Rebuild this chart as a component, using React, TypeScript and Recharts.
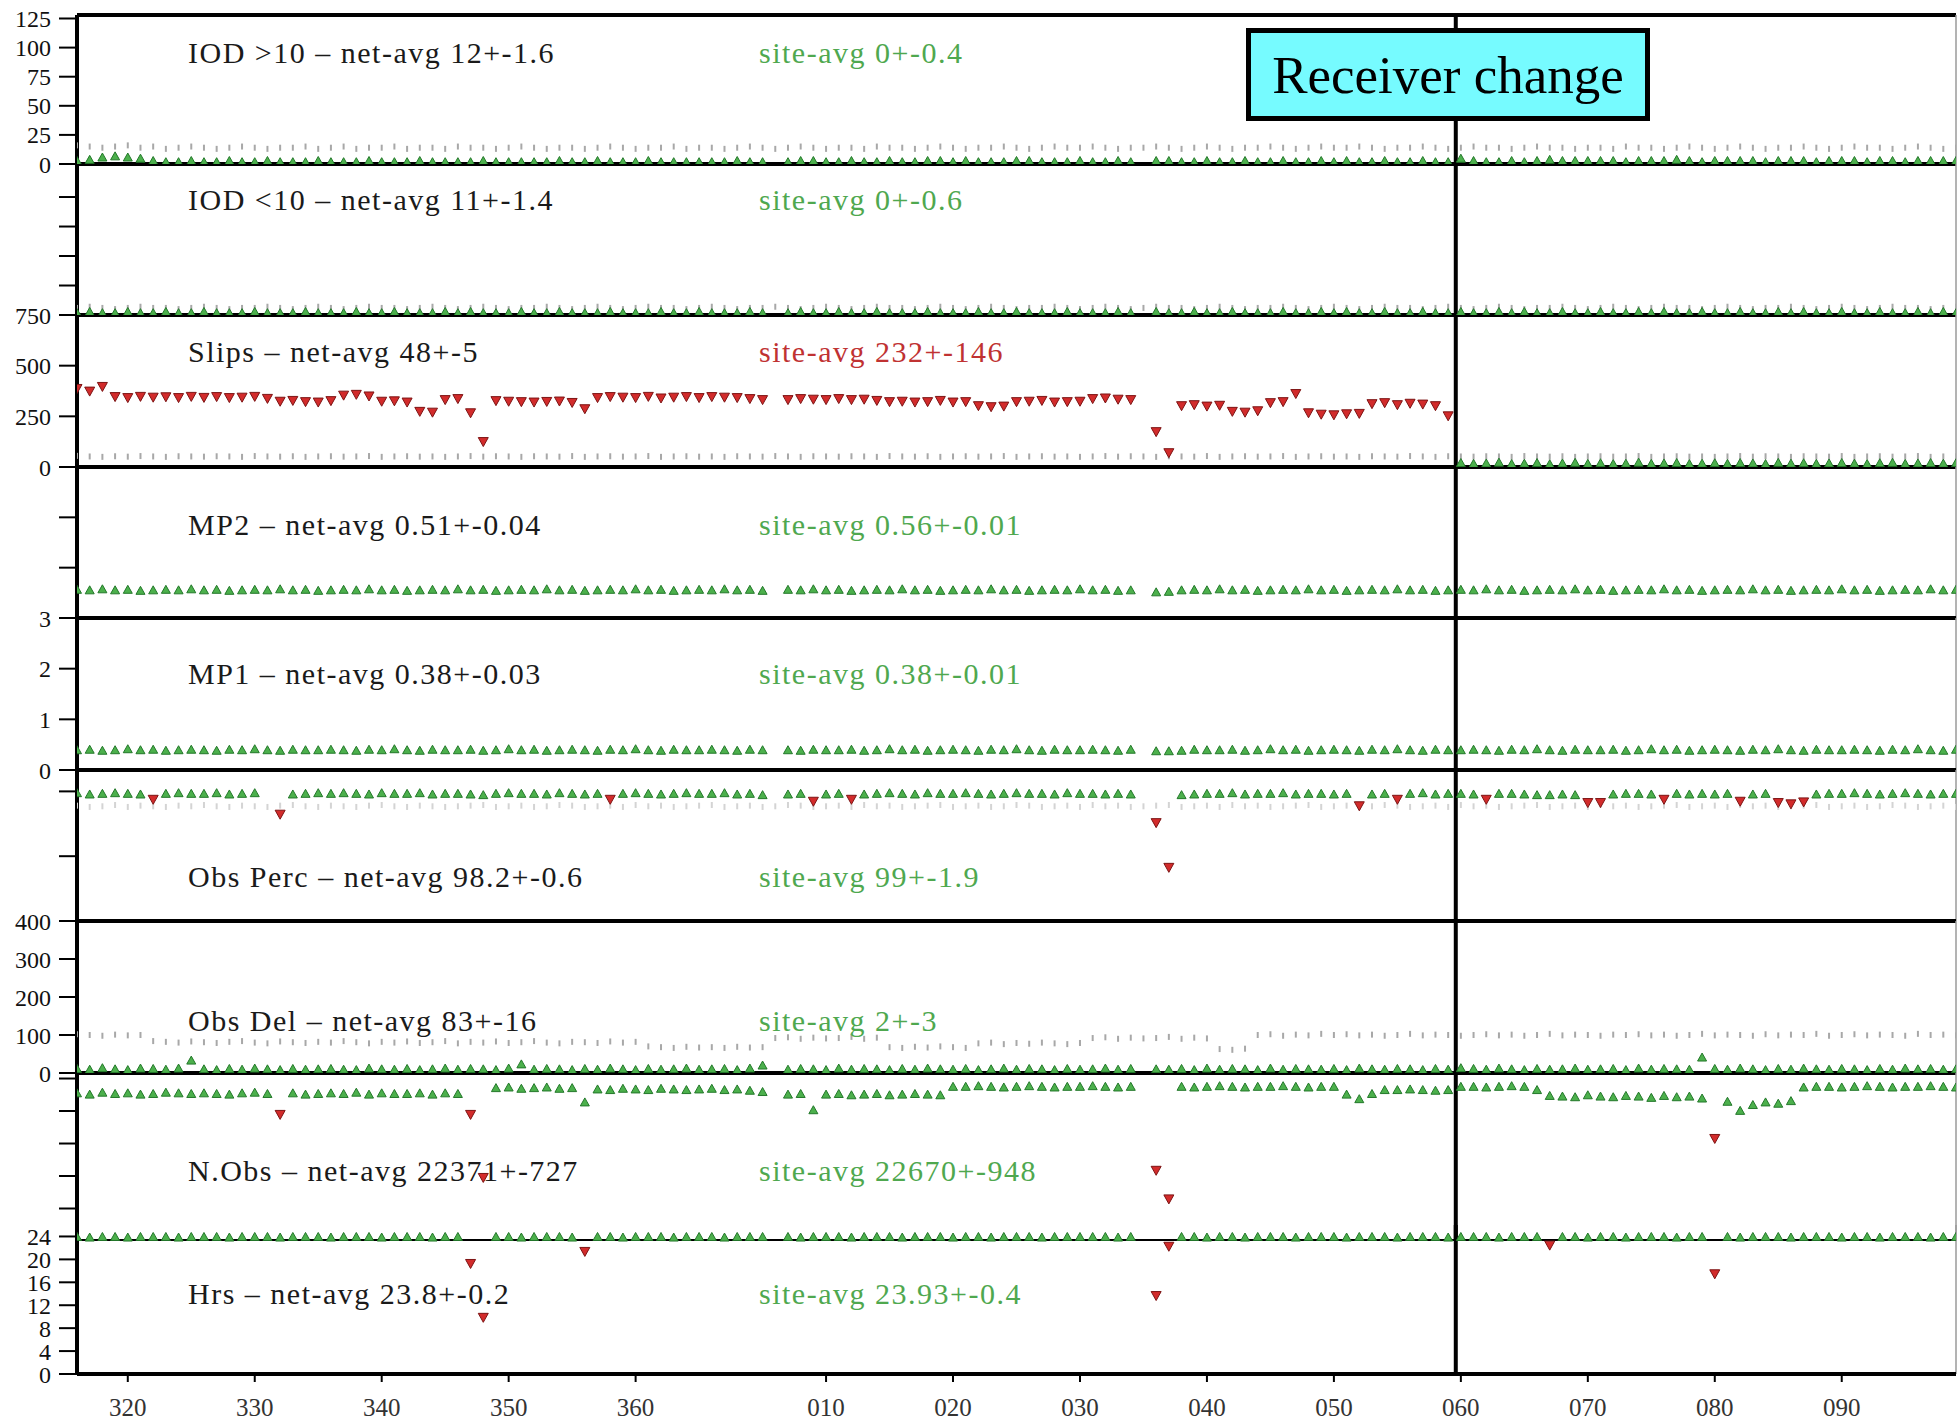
import React from 'react';
import { ScatterChart, Scatter, XAxis, YAxis, ReferenceLine } from 'recharts';

// day-of-year axis: index 0 of every series is day 316, days > 365 wrap into the next year
const START_DAY = 316;
const RECEIVER_CHANGE_DAY = 424.6;
const DAY_DOMAIN: [number, number] = [316, 464];
const X_TICKS = [320, 330, 340, 350, 360, 375, 385, 395, 405, 415, 425, 435, 445, 455];

const IOD_HI_TICKS = [0, 25, 50, 75, 100, 125];
const IOD_LO_TICKS = [25, 50, 75, 100];
const SLIPS_TICKS = [0, 250, 500, 750];
const MP2_TICKS = [1, 2];
const MP1_TICKS = [0, 1, 2, 3];
const OBS_PERC_TICKS = [90, 100];
const OBS_DEL_TICKS = [0, 100, 200, 300, 400];
const NOBS_TICKS = [5000, 10000, 15000, 20000, 25000];
const HRS_TICKS = [0, 4, 8, 12, 16, 20, 24];

const IOD_HI_SITE = [
  3, 4, 6, 7, 6, 5, 3, 2, 2, 3,
  2, 2, 3, 2, 2, 3, 2, 2, 2, 3,
  2, 2, 2, 3, 2, 2, 2, 3, 2, 2,
  2, 2, 3, 2, 2, 2, 2, 2, 3, 2,
  2, 3, 2, 2, 2, 3, 2, 2, 2, 2,
  2, 2, 3, 2, 2, null, 2, 3, 3, 2,
  2, 3, 2, 2, 3, 2, 2, 3, 3, 2,
  3, 2, 2, 2, 3, 3, 2, 2, 2, 3,
  2, 2, 3, 2, null, 3, 3, 2, 2, 3,
  2, 2, 3, 2, 2, 3, 2, 2, 3, 2,
  3, 2, 2, 3, 2, 2, 3, 2, 2, 5,
  3, 2, 2, 3, 2, 3, 4, 3, 3, 3,
  3, 3, 2, 3, 3, 3, 4, 3, 2, 3,
  3, 3, 3, 2, 3, 3, 3, 2, 3, 3,
  3, 2, 3, 3, 2, 3, 3, 3, 3,
];
const IOD_HI_NET = [
  16, 15, 14, 15, 16, 14, 15, 13, 14, 15,
  14, 13, 14, 15, 14, 13, 14, 14, 15, 13,
  14, 15, 13, 14, 14, 15, 13, 14, 14, 13,
  15, 14, 14, 13, 14, 15, 14, 13, 14, 14,
  13, 14, 15, 14, 13, 14, 14, 15, 13, 14,
  14, 13, 14, 15, 14, 13, 14, 15, 14, 13,
  14, 14, 13, 15, 14, 14, 13, 14, 15, 14,
  13, 14, 14, 15, 14, 13, 14, 15, 14, 14,
  15, 14, 13, 14, 14, 15, 14, 13, 14, 15,
  14, 13, 14, 14, 15, 14, 13, 14, 15, 14,
  14, 15, 14, 13, 14, 14, 15, 14, 13, 14,
  15, 14, 14, 13, 14, 15, 14, 14, 13, 14,
  14, 13, 15, 14, 14, 13, 14, 15, 14, 13,
  14, 15, 14, 13, 14, 14, 15, 14, 13, 14,
  15, 14, 14, 13, 14, 15, 14, 13, 14,
];

const IOD_LO_SITE = [
  2, 3, 2, 2, 3, 2, 2, 3, 2, 2,
  3, 2, 2, 2, 3, 2, 2, 2, 3, 2,
  2, 2, 3, 2, 2, 3, 2, 2, 2, 3,
  2, 3, 2, 2, 2, 3, 2, 2, 3, 2,
  2, 2, 3, 2, 2, 2, 3, 2, 2, 3,
  2, 2, 2, 3, 2, null, 2, 3, 2, 2,
  3, 2, 2, 3, 2, 2, 2, 3, 2, 2,
  2, 3, 2, 2, 3, 2, 2, 2, 3, 2,
  2, 2, 3, 2, null, 3, 2, 2, 3, 2,
  2, 3, 2, 2, 2, 3, 2, 2, 3, 2,
  3, 2, 2, 3, 2, 2, 3, 2, 2, 3,
  2, 2, 3, 2, 3, 2, 2, 3, 2, 2,
  3, 2, 2, 3, 2, 3, 2, 2, 3, 2,
  2, 3, 2, 2, 3, 2, 3, 2, 2, 3,
  2, 2, 3, 2, 2, 3, 2, 3, 2,
];
const IOD_LO_NET = [
  6, 7, 6, 5, 6, 7, 6, 6, 5, 6,
  7, 6, 5, 6, 6, 7, 6, 5, 6, 7,
  6, 5, 6, 7, 6, 6, 5, 6, 7, 6,
  5, 6, 7, 6, 5, 6, 6, 7, 6, 5,
  6, 7, 6, 5, 6, 7, 6, 6, 5, 6,
  7, 6, 5, 6, 6, 7, 6, 5, 6, 7,
  6, 5, 6, 7, 6, 6, 5, 6, 7, 6,
  5, 6, 7, 6, 5, 6, 6, 7, 6, 5,
  6, 7, 6, 5, 6, 7, 6, 6, 5, 6,
  7, 6, 5, 6, 6, 7, 6, 5, 6, 7,
  6, 5, 6, 7, 6, 6, 5, 6, 7, 6,
  5, 6, 7, 6, 5, 6, 6, 7, 6, 5,
  6, 7, 6, 5, 6, 7, 6, 6, 5, 6,
  7, 6, 5, 6, 6, 7, 6, 5, 6, 7,
  6, 5, 6, 7, 6, 6, 5, 6, 7,
];

const SLIPS_SITE = [
  385, 372, 395, 345, 340, 346, 342, 344, 340, 346,
  341, 345, 340, 342, 346, 336, 322, 326, 320, 318,
  325, 352, 356, 348, 322, 324, 318, 272, 268, 330,
  335, 265, 123, 325, 322, 320, 318, 321, 323, 316,
  285, 340, 345, 342, 340, 346, 338, 342, 345, 340,
  345, 342, 340, 335, 330, null, 330, 335, 332, 330,
  335, 330, 332, 326, 320, 322, 318, 320, 326, 318,
  320, 300, 295, 298, 320, 322, 326, 318, 320, 322,
  335, 338, 332, 330, null, 172, 68, 300, 305, 298,
  302, 272, 268, 275, 315, 320, 360, 265, 258, 255,
  260, 262, 310, 315, 305, 312, 308, 300, 250, 22,
  18, 20, 24, 17, 19, 22, 16, 20, 23, 18,
  21, 17, 19, 24, 18, 20, 22, 17, 19, 21,
  18, 22, 20, 17, 23, 19, 21, 18, 20, 22,
  19, 17, 21, 23, 18, 20, 22, 19, 21,
];
const SLIPS_NET = [
  55, 52, 50, 53, 51, 54, 52, 50, 53, 52,
  51, 53, 52, 50, 54, 52, 51, 53, 50, 52,
  53, 51, 52, 54, 50, 52, 53, 51, 52, 50,
  52, 54, 51, 53, 52, 50, 53, 52, 51, 54,
  50, 52, 53, 51, 52, 54, 50, 52, 53, 51,
  52, 50, 53, 52, 51, 54, 52, 50, 53, 52,
  51, 53, 52, 50, 54, 52, 51, 53, 50, 52,
  53, 51, 52, 54, 50, 52, 53, 51, 52, 50,
  52, 54, 51, 53, 52, 50, 53, 52, 51, 54,
  50, 52, 53, 51, 52, 54, 50, 52, 53, 51,
  52, 50, 53, 52, 51, 54, 52, 50, 53, 52,
  51, 53, 52, 50, 54, 52, 51, 53, 50, 52,
  53, 51, 52, 54, 50, 52, 53, 51, 52, 50,
  52, 54, 51, 53, 52, 50, 53, 52, 51, 54,
  50, 52, 53, 51, 52, 54, 50, 52, 53,
];

const MP2_SITE = [
  0.57, 0.56, 0.58, 0.56, 0.57, 0.55, 0.56, 0.57, 0.56, 0.58,
  0.56, 0.57, 0.55, 0.56, 0.57, 0.56, 0.58, 0.56, 0.57, 0.55,
  0.56, 0.57, 0.56, 0.58, 0.56, 0.57, 0.55, 0.56, 0.57, 0.56,
  0.58, 0.56, 0.57, 0.55, 0.56, 0.57, 0.56, 0.58, 0.56, 0.57,
  0.55, 0.56, 0.57, 0.56, 0.58, 0.56, 0.57, 0.55, 0.56, 0.57,
  0.56, 0.58, 0.56, 0.57, 0.55, null, 0.57, 0.56, 0.58, 0.56,
  0.57, 0.55, 0.56, 0.57, 0.56, 0.58, 0.56, 0.57, 0.55, 0.56,
  0.57, 0.56, 0.58, 0.56, 0.57, 0.55, 0.56, 0.57, 0.56, 0.58,
  0.56, 0.57, 0.55, 0.56, null, 0.52, 0.53, 0.56, 0.57, 0.56,
  0.58, 0.56, 0.57, 0.55, 0.56, 0.57, 0.56, 0.58, 0.56, 0.57,
  0.55, 0.56, 0.57, 0.56, 0.58, 0.56, 0.57, 0.55, 0.56, 0.57,
  0.56, 0.58, 0.56, 0.57, 0.55, 0.56, 0.57, 0.56, 0.58, 0.56,
  0.57, 0.55, 0.56, 0.57, 0.56, 0.58, 0.56, 0.57, 0.55, 0.56,
  0.57, 0.56, 0.58, 0.56, 0.57, 0.55, 0.56, 0.57, 0.56, 0.58,
  0.56, 0.57, 0.55, 0.56, 0.57, 0.56, 0.58, 0.56, 0.57,
];

const MP1_SITE = [
  0.40, 0.41, 0.39, 0.40, 0.42, 0.40, 0.41, 0.39, 0.40, 0.41,
  0.40, 0.39, 0.41, 0.40, 0.42, 0.40, 0.39, 0.41, 0.40, 0.40,
  0.41, 0.40, 0.39, 0.41, 0.40, 0.42, 0.40, 0.39, 0.41, 0.40,
  0.40, 0.41, 0.39, 0.40, 0.42, 0.40, 0.41, 0.39, 0.40, 0.41,
  0.40, 0.39, 0.41, 0.40, 0.42, 0.40, 0.39, 0.41, 0.40, 0.40,
  0.41, 0.40, 0.39, 0.41, 0.40, null, 0.40, 0.39, 0.41, 0.40,
  0.40, 0.41, 0.39, 0.40, 0.42, 0.40, 0.41, 0.39, 0.40, 0.41,
  0.40, 0.39, 0.41, 0.40, 0.42, 0.40, 0.39, 0.41, 0.40, 0.40,
  0.41, 0.40, 0.39, 0.41, null, 0.38, 0.38, 0.39, 0.41, 0.40,
  0.40, 0.41, 0.39, 0.40, 0.42, 0.40, 0.41, 0.39, 0.40, 0.41,
  0.40, 0.39, 0.41, 0.40, 0.42, 0.40, 0.39, 0.41, 0.40, 0.40,
  0.41, 0.40, 0.39, 0.41, 0.40, 0.42, 0.40, 0.39, 0.41, 0.40,
  0.40, 0.41, 0.39, 0.40, 0.42, 0.40, 0.41, 0.39, 0.40, 0.41,
  0.40, 0.39, 0.41, 0.40, 0.42, 0.40, 0.39, 0.41, 0.40, 0.40,
  0.41, 0.40, 0.39, 0.41, 0.40, 0.42, 0.40, 0.39, 0.41,
];

const OBS_PERC_SITE = [
  99.8, 99.6, 99.7, 99.8, 99.7, 99.6, 98.7, 99.7, 99.8, 99.7,
  99.7, 99.8, 99.6, 99.7, 99.8, null, 96.4, 99.6, 99.7, 99.8,
  99.7, 99.8, 99.7, 99.6, 99.8, 99.7, 99.7, 99.8, 99.6, 99.7,
  99.7, 99.6, 99.5, 99.7, 99.8, 99.7, 99.7, 99.6, 99.8, 99.7,
  99.6, 99.7, 98.7, 99.7, 99.8, 99.7, 99.6, 99.7, 99.8, 99.7,
  99.7, 99.8, 99.6, 99.7, 99.5, null, 99.6, 99.7, 98.4, 99.6,
  99.7, 98.7, 99.6, 99.7, 99.8, 99.7, 99.6, 99.8, 99.7, 99.7,
  99.8, 99.7, 99.6, 99.7, 99.8, 99.7, 99.7, 99.6, 99.8, 99.7,
  99.7, 99.6, 99.7, 99.6, null, 95.1, 88.2, 99.5, 99.6, 99.7,
  99.7, 99.8, 99.6, 99.7, 99.7, 99.8, 99.6, 99.7, 99.7, 99.6,
  99.7, 97.7, 99.6, 99.7, 98.7, 99.7, 99.8, 99.6, 99.7, 99.7,
  99.6, 98.7, 99.7, 99.7, 99.6, 99.5, 99.5, 99.6, 99.5, 98.2,
  98.2, 99.6, 99.7, 99.7, 99.6, 98.7, 99.7, 99.6, 99.7, 99.6,
  99.7, 98.4, 99.6, 99.7, 98.2, 98.0, 98.3, 99.6, 99.7, 99.7,
  99.8, 99.7, 99.6, 99.7, 99.8, 99.7, 99.6, 99.7, 99.7,
];
const OBS_PERC_NET = [
  97.8, 97.6, 97.7, 97.9, 97.6, 97.8, 97.7, 97.6, 97.8, 97.7,
  97.9, 97.7, 97.6, 97.8, 97.7, 97.6, 97.8, 97.9, 97.7, 97.6,
  97.8, 97.7, 97.6, 97.8, 97.9, 97.7, 97.6, 97.8, 97.7, 97.6,
  97.7, 97.8, 97.9, 97.6, 97.7, 97.8, 97.6, 97.7, 97.9, 97.8,
  97.6, 97.7, 97.8, 97.6, 97.9, 97.7, 97.8, 97.6, 97.7, 97.8,
  97.9, 97.6, 97.7, 97.8, 97.6, 97.7, 97.9, 97.8, 97.6, 97.7,
  97.8, 97.6, 97.9, 97.7, 97.8, 97.6, 97.7, 97.8, 97.9, 97.6,
  97.7, 97.8, 97.6, 97.7, 97.9, 97.8, 97.6, 97.7, 97.8, 97.6,
  97.9, 97.7, 97.8, 97.6, 97.7, 97.8, 97.9, 97.6, 97.7, 97.8,
  97.6, 97.9, 97.7, 97.8, 97.6, 97.7, 97.8, 97.9, 97.6, 97.7,
  97.8, 97.6, 97.7, 97.9, 97.8, 97.6, 97.7, 97.8, 97.6, 97.9,
  97.7, 97.8, 97.6, 97.7, 97.8, 97.9, 97.6, 97.7, 97.8, 97.6,
  97.9, 97.7, 97.8, 97.6, 97.7, 97.8, 97.9, 97.6, 97.7, 97.8,
  97.6, 97.9, 97.7, 97.8, 97.6, 97.7, 97.8, 97.9, 97.6, 97.7,
  97.8, 97.6, 97.7, 97.9, 97.8, 97.6, 97.7, 97.8, 97.6,
];

const OBS_DEL_SITE = [
  12, 10, 14, 11, 9, 13, 12, 10, 13, 34,
  11, 9, 12, 10, 13, 11, 9, 12, 10, 11,
  12, 10, 9, 13, 11, 10, 12, 9, 11, 13,
  10, 12, 11, 9, 13, 24, 10, 12, 11, 9,
  12, 10, 13, 11, 9, 12, 10, 11, 13, 10,
  11, 12, 9, 13, 21, null, 10, 12, 11, 9,
  13, 10, 12, 11, 9, 12, 10, 13, 11, 10,
  12, 9, 11, 13, 10, 12, 11, 9, 12, 10,
  11, 13, 10, 12, null, 11, 10, 12, 9, 13,
  10, 12, 11, 9, 13, 10, 12, 11, 10, 12,
  9, 13, 11, 10, 12, 11, 9, 12, 10, 14,
  12, 10, 13, 11, 9, 12, 10, 11, 13, 10,
  11, 12, 9, 13, 10, 12, 11, 10, 42, 12,
  10, 13, 11, 9, 12, 10, 13, 11, 10, 12,
  11, 9, 12, 10, 13, 11, 12, 10, 11,
];
const OBS_DEL_NET = [
  102, 100, 98, 101, 99, 100, 84, 82, 80, 83,
  81, 79, 82, 84, 80, 78, 83, 81, 79, 82,
  80, 84, 81, 78, 82, 80, 83, 79, 81, 84,
  78, 82, 80, 83, 79, 81, 84, 80, 78, 82,
  81, 79, 83, 80, 82, 70, 68, 66, 69, 67,
  68, 66, 69, 67, 68, 92, 94, 90, 93, 91,
  92, 95, 90, 93, 68, 66, 69, 67, 70, 68,
  66, 78, 80, 76, 79, 77, 80, 78, 76, 79,
  92, 94, 90, 93, 91, 92, 95, 90, 93, 91,
  63, 61, 64, 100, 102, 98, 101, 99, 103, 100,
  102, 99, 101, 98, 100, 103, 99, 101, 100, 98,
  100, 102, 99, 101, 98, 100, 103, 99, 101, 100,
  98, 101, 100, 102, 99, 101, 98, 100, 103, 99,
  101, 100, 98, 102, 99, 101, 100, 103, 98, 100,
  102, 99, 101, 100, 98, 103, 100, 101, 99,
];

const NOBS_SITE = [
  22800, 22600, 22900, 22700, 22800, 22600, 22700, 22900, 22800, 22700,
  22800, 22700, 22600, 22800, 22900, 22700, 19400, 22800, 22600, 22700,
  22800, 22700, 22900, 22600, 22800, 22700, 22700, 22800, 22600, 22800,
  22700, 19400, 9700, 23600, 23700, 23500, 23600, 23700, 23500, 23600,
  21400, 23400, 23300, 23500, 23400, 23300, 23500, 23400, 23300, 23400,
  23500, 23300, 23400, 23200, 23000, null, 22600, 22700, 20200, 22600,
  22700, 22500, 22600, 22700, 22500, 22600, 22700, 22600, 22500, 23800,
  23800, 23900, 23800, 23700, 23800, 23900, 23800, 23700, 23800, 23800,
  23900, 23800, 23700, 23800, null, 10800, 6400, 23800, 23700, 23800,
  23900, 23800, 23700, 23800, 23800, 23900, 23800, 23700, 23800, 23800,
  22600, 21900, 22700, 23300, 23300, 23400, 23300, 23200, 23300, 23800,
  23800, 23700, 23800, 23900, 23800, 23300, 22400, 22300, 22200, 22500,
  22300, 22200, 22400, 22300, 22100, 22400, 22200, 22300, 22000, 15700,
  21500, 20100, 21000, 21400, 21200, 21600, 23700, 23800, 23800, 23700,
  23800, 23900, 23800, 23700, 23800, 23800, 23900, 23800, 23700,
];

const HRS_SITE = [
  24, 23.9, 24, 24, 23.9, 24, 24, 24, 23.9, 24,
  24, 24, 23.9, 24, 24, 24, 23.9, 24, 24, 24,
  23.9, 24, 24, 24, 23.9, 24, 24, 24, 23.9, 24,
  24, 19.2, 9.8, 24, 24, 23.9, 24, 24, 24, 23.9,
  21.3, 24, 24, 23.9, 24, 24, 24, 23.9, 24, 24,
  24, 23.9, 24, 24, 24, null, 24, 23.9, 24, 24,
  24, 23.9, 24, 24, 24, 23.9, 24, 24, 24, 23.9,
  24, 24, 23.9, 24, 24, 24, 23.9, 24, 24, 24,
  24, 24, 23.9, 24, null, 13.6, 22.2, 24, 24, 23.9,
  24, 24, 23.9, 24, 24, 24, 23.9, 24, 24, 24,
  23.9, 24, 24, 24, 23.9, 24, 24, 24, 23.9, 24,
  24, 24, 23.9, 24, 24, 24, 22.4, 24, 24, 23.9,
  24, 24, 23.9, 24, 24, 24, 23.9, 24, 24, 17.4,
  24, 23.9, 24, 24, 24, 23.9, 24, 24, 24, 23.9,
  24, 24, 23.9, 24, 24, 24, 23.9, 24, 24,
];

const NET_LABELS = [
  'IOD >10 – net-avg 12+-1.6',
  'IOD <10 – net-avg 11+-1.4',
  'Slips – net-avg 48+-5',
  'MP2 – net-avg 0.51+-0.04',
  'MP1 – net-avg 0.38+-0.03',
  'Obs Perc – net-avg 98.2+-0.6',
  'Obs Del – net-avg 83+-16',
  'N.Obs – net-avg 22371+-727',
  'Hrs – net-avg 23.8+-0.2',
];
const SITE_LABELS = [
  'site-avg 0+-0.4',
  'site-avg 0+-0.6',
  'site-avg 232+-146',
  'site-avg 0.56+-0.01',
  'site-avg 0.38+-0.01',
  'site-avg 99+-1.9',
  'site-avg 2+-3',
  'site-avg 22670+-948',
  'site-avg 23.93+-0.4',
];

const SERIF = "'Liberation Serif', 'Times New Roman', serif";
const W = 1959;
const H = 1421;
const PAD = 16;
const BOUNDS = [15, 164, 315, 467, 618, 770, 921, 1073, 1225, 1374];
const LABEL_Y = [53, 200, 352, 525, 674, 877, 1021, 1171, 1294];
const GREEN_TEXT = '#4fa84f';
const RED_TEXT = '#c03232';

type Pt = { day: number; value: number };
const toPoints = (arr: (number | null)[]): Pt[] =>
  arr.map((v, i) => ({ day: START_DAY + i, value: v })).filter((p) => p.value !== null) as Pt[];

const fmtDay = (d: number) => (d <= 365 ? String(d) : String(d - 365).padStart(3, '0'));

const PANELS = [
  { domain: [0, 128], ticks: IOD_HI_TICKS, tickLabels: true, site: IOD_HI_SITE, net: IOD_HI_NET, netColor: '#a8a8a8', isBad: (v: number) => v > 60, siteColor: GREEN_TEXT },
  { domain: [0, 128], ticks: IOD_LO_TICKS, tickLabels: false, site: IOD_LO_SITE, net: IOD_LO_NET, netColor: '#a8a8a8', isBad: (v: number) => v > 60, siteColor: GREEN_TEXT },
  { domain: [0, 750], ticks: SLIPS_TICKS, tickLabels: true, site: SLIPS_SITE, net: SLIPS_NET, netColor: '#a8a8a8', isBad: (v: number) => v > 60, siteColor: RED_TEXT },
  { domain: [0, 3], ticks: MP2_TICKS, tickLabels: false, site: MP2_SITE, net: null, netColor: '#a8a8a8', isBad: (v: number) => v > 1, siteColor: GREEN_TEXT },
  { domain: [0, 3], ticks: MP1_TICKS, tickLabels: true, site: MP1_SITE, net: null, netColor: '#a8a8a8', isBad: (v: number) => v > 1, siteColor: GREEN_TEXT },
  { domain: [80, 103.3], ticks: OBS_PERC_TICKS, tickLabels: false, site: OBS_PERC_SITE, net: OBS_PERC_NET, netColor: '#d4d4d4', isBad: (v: number) => v < 99.2, siteColor: GREEN_TEXT },
  { domain: [0, 400], ticks: OBS_DEL_TICKS, tickLabels: true, site: OBS_DEL_SITE, net: OBS_DEL_NET, netColor: '#a8a8a8', isBad: (v: number) => v > 150, siteColor: GREEN_TEXT },
  { domain: [0, 25850], ticks: NOBS_TICKS, tickLabels: false, site: NOBS_SITE, net: null, netColor: '#a8a8a8', isBad: (v: number) => v < 20000, siteColor: GREEN_TEXT },
  { domain: [0, 26], ticks: HRS_TICKS, tickLabels: true, site: HRS_SITE, net: null, netColor: '#a8a8a8', isBad: (v: number) => v < 23.5, siteColor: GREEN_TEXT },
];

const siteShape = (isBad: (v: number) => boolean) => (props: any) => {
  const { cx, cy, payload } = props;
  if (cx == null || cy == null) return <g />;
  if (isBad(payload.value)) {
    return (
      <path
        d={`M${cx - 5},${cy - 4.5} L${cx + 5},${cy - 4.5} L${cx},${cy + 4.5} Z`}
        fill="#d22b2b"
        stroke="#7d1414"
        strokeWidth={1}
      />
    );
  }
  return (
    <path
      d={`M${cx - 4.5},${cy + 4} L${cx},${cy - 4} L${cx + 4.5},${cy + 4} Z`}
      fill="#4cb04c"
      stroke="#23782a"
      strokeWidth={1}
    />
  );
};

const netShape = (color: string) => (props: any) => {
  const { cx, cy } = props;
  if (cx == null || cy == null) return <g />;
  return <rect x={cx - 1} y={cy - 3} width={2} height={6} fill={color} />;
};

const Panel: React.FC<{ index: number }> = ({ index }) => {
  const p = PANELS[index];
  const isLast = index === PANELS.length - 1;
  const isNobs = index === 7;
  const top = BOUNDS[index] - PAD;
  const plotH = BOUNDS[index + 1] - BOUNDS[index];
  const height = isLast ? H - top : plotH + 2 * PAD;
  const xAxisH = isLast ? height - PAD - plotH : PAD;

  return (
    <div style={{ position: 'absolute', left: 0, top, width: W, height }}>
      <ScatterChart width={W} height={height} margin={{ top: PAD, right: 3, bottom: 0, left: 0 }}>
        <XAxis
          type="number"
          dataKey="day"
          domain={DAY_DOMAIN}
          allowDataOverflow
          ticks={X_TICKS}
          interval={0}
          height={xAxisH}
          axisLine={{ stroke: '#000', strokeWidth: 4 }}
          tickLine={isLast || isNobs ? { stroke: '#000', strokeWidth: 2 } : false}
          mirror={isNobs}
          tickSize={isNobs ? 16 : 8}
          tickMargin={16}
          tick={isLast ? { fill: '#333', fontSize: 25, fontFamily: SERIF } : false}
          tickFormatter={fmtDay}
        />
        <YAxis
          type="number"
          dataKey="value"
          domain={p.domain as [number, number]}
          allowDataOverflow
          ticks={p.ticks}
          interval={0}
          width={77}
          axisLine={{ stroke: '#000', strokeWidth: 4 }}
          tickLine={{ stroke: '#000', strokeWidth: 2 }}
          tickSize={18}
          tickMargin={8}
          tick={{ fill: '#111', fontSize: 24, fontFamily: SERIF }}
          tickFormatter={(v: number) => (p.tickLabels ? String(v) : '')}
        />
        {index === 0 && <ReferenceLine y={p.domain[1]} stroke="#000" strokeWidth={4} />}
        <ReferenceLine x={DAY_DOMAIN[1]} stroke="#9a9a9a" strokeWidth={1.5} />
        {p.net && (
          <Scatter data={toPoints(p.net)} shape={netShape(p.netColor)} isAnimationActive={false} />
        )}
        <Scatter data={toPoints(p.site)} shape={siteShape(p.isBad)} isAnimationActive={false} />
        <ReferenceLine x={RECEIVER_CHANGE_DAY} stroke="#000" strokeWidth={4} />
      </ScatterChart>
    </div>
  );
};

const labelStyle = (y: number, x: number, color: string): React.CSSProperties => ({
  position: 'absolute',
  left: x,
  top: y - 15,
  fontFamily: SERIF,
  fontSize: 30,
  lineHeight: '30px',
  letterSpacing: 1.5,
  color,
  whiteSpace: 'nowrap',
});

export default function App() {
  return (
    <div style={{ position: 'absolute', left: 0, top: 0, width: W, height: H, background: '#fff', overflow: 'hidden' }}>
      {PANELS.map((_, i) => (
        <Panel key={i} index={i} />
      ))}
      {NET_LABELS.map((t, i) => (
        <div key={`n${i}`} style={labelStyle(LABEL_Y[i], 188, '#1a1a1a')}>
          {t}
        </div>
      ))}
      {SITE_LABELS.map((t, i) => (
        <div key={`s${i}`} style={labelStyle(LABEL_Y[i], 759, PANELS[i].siteColor)}>
          {t}
        </div>
      ))}
      <div
        style={{
          position: 'absolute',
          left: 1246,
          top: 28,
          width: 404,
          height: 93,
          boxSizing: 'border-box',
          border: '5px solid #000',
          background: '#76fbff',
          display: 'flex',
          alignItems: 'center',
          justifyContent: 'center',
          fontFamily: SERIF,
          fontSize: 53,
          color: '#000',
        }}
      >
        Receiver change
      </div>
    </div>
  );
}
